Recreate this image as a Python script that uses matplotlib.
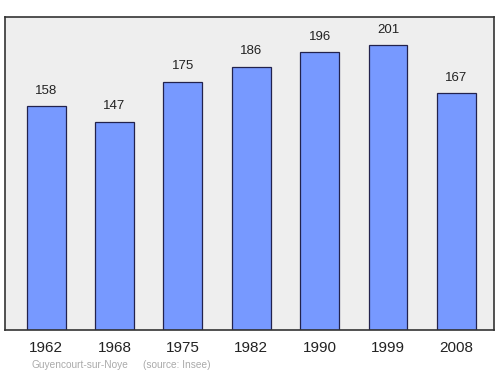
import matplotlib
matplotlib.use("Agg")
import matplotlib.pyplot as plt
import numpy as np

plt.rcParams['font.family'] = ['Liberation Sans', 'DejaVu Sans']

years = ['1962', '1968', '1975', '1982', '1990', '1999', '2008']
population = [158, 147, 175, 186, 196, 201, 167]
town = 'Guyencourt-sur-Noye'
source = '(source: Insee)'

fig = plt.figure(figsize=(5, 3.74), dpi=100)
ax = fig.add_axes([5 / 500, 44 / 374, 489 / 500, 313 / 374])
ax.set_facecolor('#eeeeee')

x = np.arange(len(years))
bars = ax.bar(x, population, width=0.57, color='#7799ff',
              edgecolor='#22224d', linewidth=0.9, zorder=2)

# value labels above each bar
for rect, val in zip(bars, population):
    ax.annotate(str(val),
                xy=(rect.get_x() + rect.get_width() / 2, rect.get_height()),
                xytext=(0, 7), textcoords='offset points',
                ha='center', va='bottom', fontsize=9.5, color='#222222')

ax.set_xlim(-0.6, 6.55)
ax.set_ylim(0, 221)
ax.set_yticks([])
ax.set_xticks(x)
ax.set_xticklabels(years, fontsize=11, color='#222222')
ax.tick_params(axis='x', length=0, pad=8)

for spine in ax.spines.values():
    spine.set_color('#333333')
    spine.set_linewidth(1.2)

fig.text(31 / 500, 1 - 365 / 374, town, fontsize=7.3, color='#aaaaaa',
         ha='left', va='center')
fig.text(143 / 500, 1 - 365 / 374, source, fontsize=7.3, color='#aaaaaa',
         ha='left', va='center')

fig.savefig('out.png', dpi=100)
